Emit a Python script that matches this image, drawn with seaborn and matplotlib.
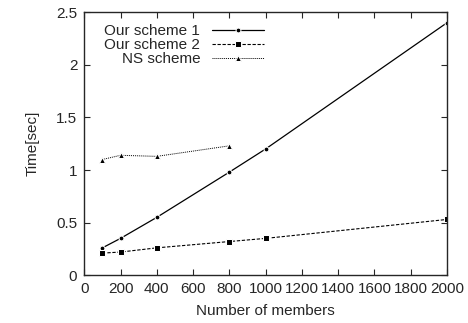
import matplotlib
matplotlib.use("Agg")
import matplotlib.pyplot as plt
import seaborn as sns
import pandas as pd

# ==================== DATA ====================
members_1 = [100, 200, 400, 800, 1000, 2000]
scheme_1 = [0.26, 0.35, 0.55, 0.98, 1.20, 2.40]

members_2 = [100, 200, 400, 800, 1000, 2000]
scheme_2 = [0.21, 0.22, 0.26, 0.32, 0.35, 0.53]

members_ns = [100, 200, 400, 800]
ns_scheme = [1.10, 1.14, 1.13, 1.23]

x_ticks = list(range(0, 2001, 200))
y_ticks = [0, 0.5, 1, 1.5, 2, 2.5]

# ==================== PLOT ====================
sns.set_style("ticks")
plt.rcParams['font.family'] = ['Liberation Sans', 'DejaVu Sans']
plt.rcParams['font.size'] = 11

fig, ax = plt.subplots(figsize=(4.68, 3.23), dpi=100)

sns.lineplot(x=members_1, y=scheme_1, ax=ax, color='black', lw=0.9,
             marker='o', markersize=3.5, label='Our scheme 1')
sns.lineplot(x=members_2, y=scheme_2, ax=ax, color='black', lw=0.8,
             linestyle=(0, (3, 1.5)), marker='s', markersize=4.5, label='Our scheme 2')
sns.lineplot(x=members_ns, y=ns_scheme, ax=ax, color='black', lw=0.7,
             linestyle=(0, (1, 1)), marker='^', markersize=4, label='NS scheme')

ax.set_xlim(0, 2000)
ax.set_ylim(0, 2.5)
ax.set_xticks(x_ticks)
ax.set_yticks(y_ticks)
ax.set_yticklabels(['0', '0.5', '1', '1.5', '2', '2.5'])
ax.set_xlabel('Number of members', labelpad=6)
ax.set_ylabel('Time[sec]', labelpad=12)
ax.tick_params(direction='in', top=True, right=True, length=4, width=0.8, pad=5)
for s in ax.spines.values():
    s.set_linewidth(1.0)

# legend labels sit left of the line samples, no frame
ax.legend(loc='upper left', frameon=False, markerfirst=False,
          handlelength=3.4, borderaxespad=0.2, labelspacing=0.0,
          bbox_to_anchor=(0.03, 0.99))

plt.subplots_adjust(left=0.18, right=0.955, top=0.962, bottom=0.148)
plt.savefig('out.png', dpi=100)
